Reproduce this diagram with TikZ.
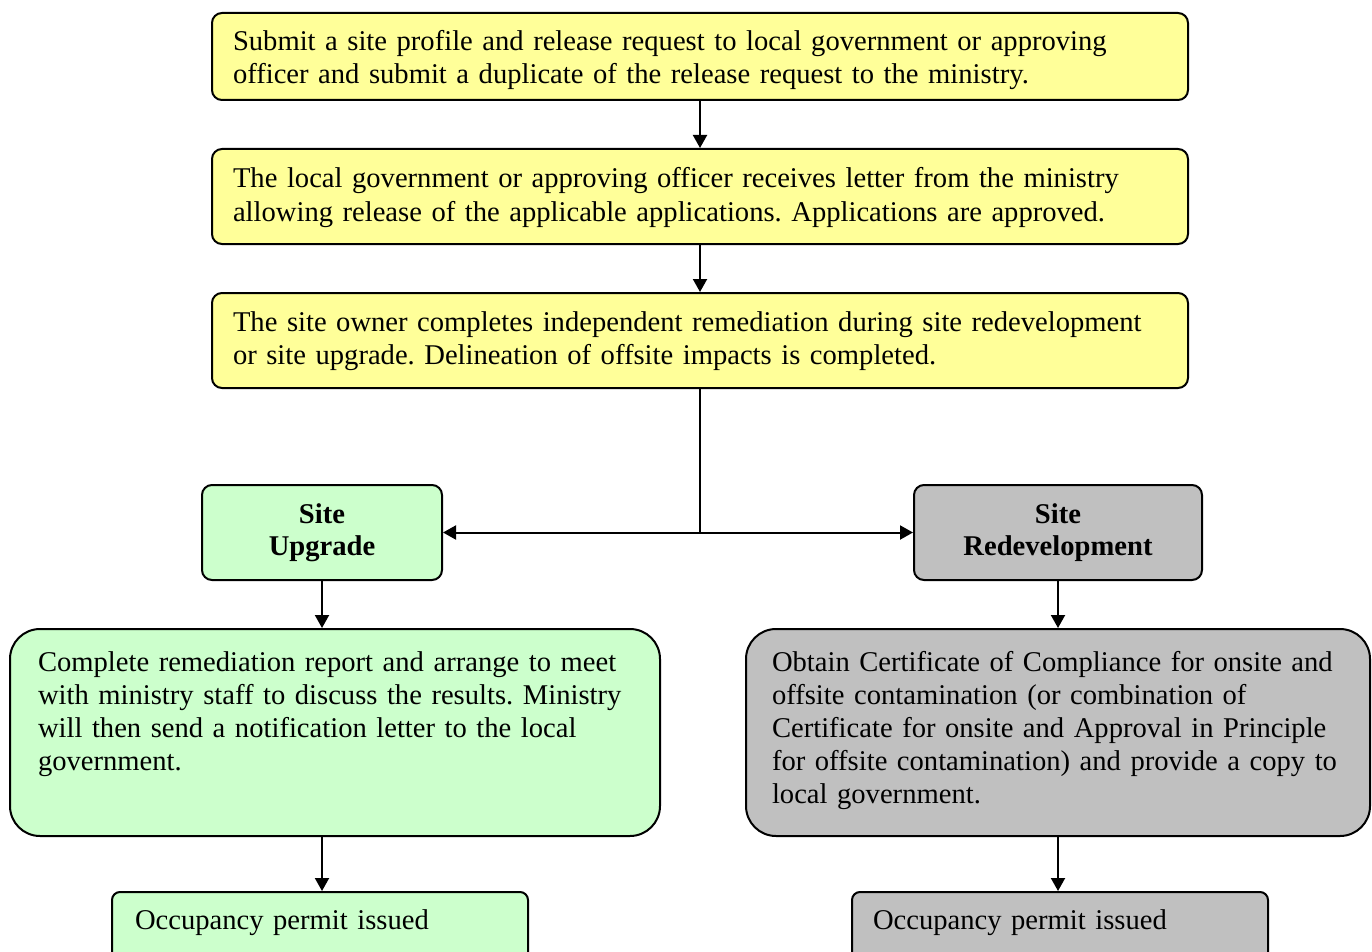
\documentclass[tikz,border=0pt]{standalone}
\usepackage{fontspec}
\setmainfont{Liberation Serif}
\usetikzlibrary{arrows.meta}
\definecolor{yel}{HTML}{FFFF99}
\definecolor{grn}{HTML}{CCFFCC}
\definecolor{gry}{HTML}{C0C0C0}
\begin{document}
\frenchspacing
\begin{tikzpicture}[x=1pt,y=-1pt,
  every node/.style={font=\fontsize{28.6}{33}\selectfont\frenchspacing},
  boxbase/.style={draw=black, line width=2pt, rounded corners=10pt, inner sep=0pt, anchor=north west, align=left},
  boldtxt/.style={font=\fontsize{28.6}{32}\selectfont\bfseries},
  flow/.style={line width=2pt, -{Triangle[length=13pt,width=14pt]}}]
\useasboundingbox (0,0) rectangle (1372,952);
\clip (0,0) rectangle (1372,952);

\node[boxbase, fill=yel, minimum width=976pt, text width=934pt, text height=38pt, text depth=49pt] (b1) at (211,12)
 {Submit a site profile and release request to local government or approving\\officer and submit a duplicate of the release request to the ministry.};
\node[boxbase, fill=yel, minimum width=976pt, text width=934pt, text height=39pt, text depth=56pt] (b2) at (211,148)
 {The local government or approving officer receives letter from the ministry\\allowing release of the applicable applications. Applications are approved.};
\node[boxbase, fill=yel, minimum width=976pt, text width=934pt, text height=38pt, text depth=57pt] (b3) at (211,292)
 {The site owner completes independent remediation during site redevelopment\\or site upgrade. Delineation of offsite impacts is completed.};

\node[boxbase, fill=grn, align=center, minimum width=240pt, text width=236pt, text height=38pt, text depth=57pt, boldtxt] (up) at (201,484)
 {Site\\Upgrade};
\node[boxbase, fill=gry, align=center, minimum width=288pt, text width=284pt, text height=38pt, text depth=57pt, boldtxt] (rd) at (913,484)
 {Site\\Redevelopment};

\node[boxbase, fill=grn, rounded corners=30pt, minimum width=650pt, text width=594pt, text height=42pt, text depth=165pt] (gbig) at (9,628)
 {Complete remediation report and arrange to meet\\with ministry staff to discuss the results. Ministry\\will then send a notification letter to the local\\government.};
\node[boxbase, fill=gry, rounded corners=30pt, minimum width=624pt, text width=572pt, text height=42pt, text depth=165pt] (ybig) at (745,628)
 {Obtain Certificate of Compliance for onsite and\\offsite contamination (or combination of\\Certificate for onsite and Approval in Principle\\for offsite contamination) and provide a copy to\\local government.};

\node[boxbase, fill=grn, rounded corners=8pt, minimum width=416pt, text width=370pt, text height=37pt, text depth=60pt] (gocc) at (111,891)
 {Occupancy permit issued};
\node[boxbase, fill=gry, rounded corners=8pt, minimum width=416pt, text width=374pt, text height=37pt, text depth=60pt] (yocc) at (851,891)
 {Occupancy permit issued};

\coordinate (j) at (b3.south |- up.east);
\draw[flow] (b1.south) -- (b2.north);
\draw[flow] (b2.south) -- (b3.north);
\draw[line width=2pt] (b3.south) -- (j);
\draw[flow] (j) -- (up.east);
\draw[flow] (j) -- (rd.west);
\draw[flow] (up.south) -- (up.south |- gbig.north);
\draw[flow] (up.south |- gbig.south) -- (up.south |- gocc.north);
\draw[flow] (rd.south) -- (rd.south |- ybig.north);
\draw[flow] (ybig.south) -- (ybig.south |- yocc.north);
\end{tikzpicture}
\end{document}
